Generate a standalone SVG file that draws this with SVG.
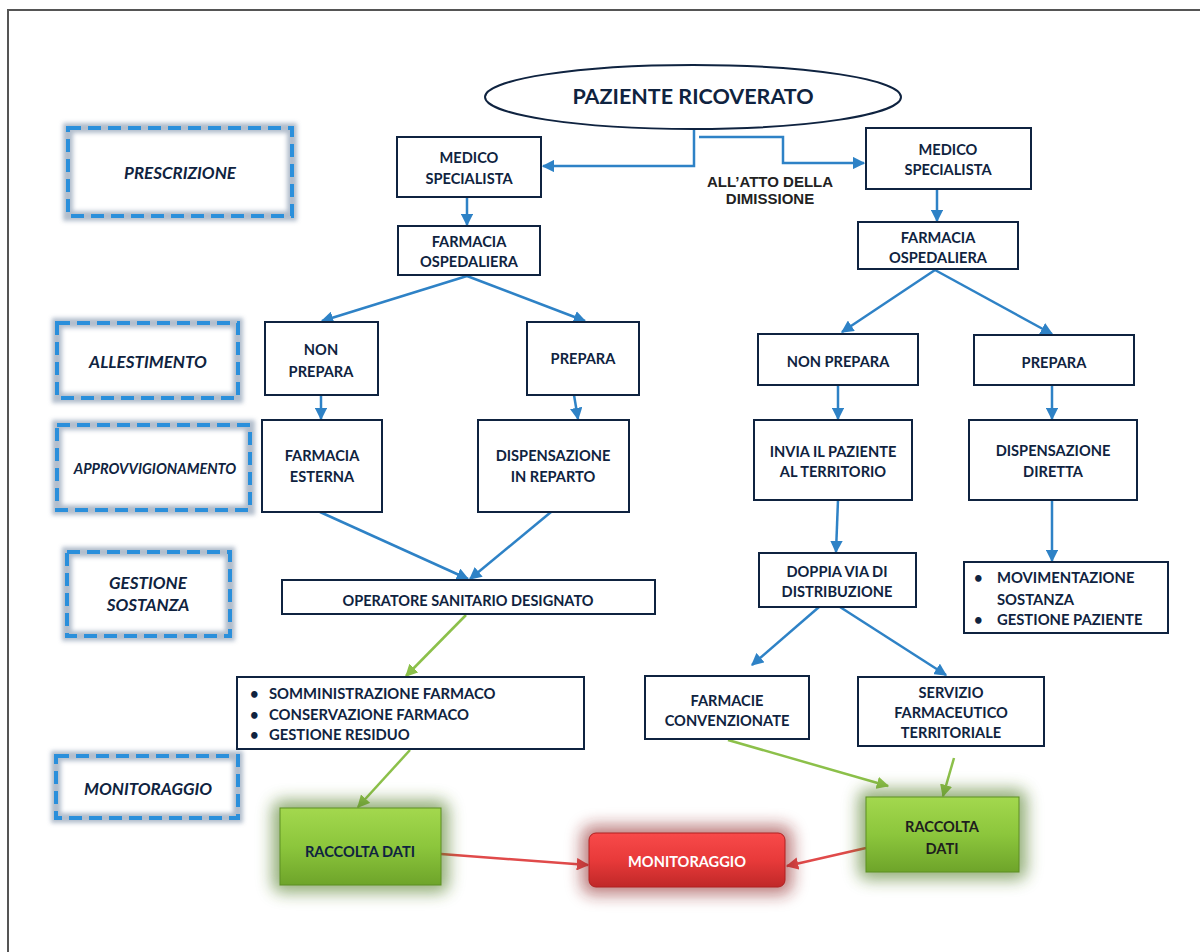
<svg xmlns="http://www.w3.org/2000/svg" width="1200" height="952" viewBox="0 0 1200 952">
<defs>
<style>
.bx{fill:#fff;stroke:#0f2340;stroke-width:2}
.t{font-family:Lato,"Open Sans",sans-serif;font-weight:bold;font-size:14.6px;fill:#0f2340;text-anchor:middle}
.tl{font-family:Lato,"Open Sans",sans-serif;font-weight:bold;font-size:14.8px;fill:#0f2340}
.lab{font-family:Lato,"Open Sans",sans-serif;font-weight:bold;font-style:italic;font-size:17px;fill:#0f2340;text-anchor:middle}
.dg{fill:none;stroke:#7f93aa;stroke-width:10;stroke-opacity:0.6;filter:url(#blur)}
.dd{fill:none;stroke:#2a8fdb;stroke-width:4;stroke-dasharray:13 7}
.cb{fill:none;stroke:#2e82c6;stroke-width:2.5}
.cg{fill:none;stroke:#8cc04a;stroke-width:2.5}
.cr{fill:none;stroke:#e04a4a;stroke-width:2.5}
</style>
<filter id="blur" x="-10%" y="-20%" width="120%" height="140%"><feGaussianBlur stdDeviation="2"/></filter>
<filter id="glow" x="-30%" y="-40%" width="160%" height="180%"><feGaussianBlur stdDeviation="8"/></filter>
<marker id="ab" viewBox="0 0 10 10" refX="9" refY="5" markerWidth="5" markerHeight="5" orient="auto"><path d="M0,0L10,5L0,10z" fill="#2e82c6"/></marker>
<marker id="ag" viewBox="0 0 10 10" refX="9" refY="5" markerWidth="5" markerHeight="5" orient="auto"><path d="M0,0L10,5L0,10z" fill="#8cc04a"/></marker>
<marker id="ar" viewBox="0 0 10 10" refX="9" refY="5" markerWidth="5" markerHeight="5" orient="auto"><path d="M0,0L10,5L0,10z" fill="#e04a4a"/></marker>
<linearGradient id="gg" x1="0" y1="0" x2="0" y2="1"><stop offset="0" stop-color="#a3d84e"/><stop offset="0.5" stop-color="#8cc63c"/><stop offset="1" stop-color="#6ea42a"/></linearGradient>
<linearGradient id="gr" x1="0" y1="0" x2="0" y2="1"><stop offset="0" stop-color="#f84a4a"/><stop offset="0.5" stop-color="#e83a3a"/><stop offset="1" stop-color="#c02828"/></linearGradient>
</defs>
<rect x="0" y="0" width="1200" height="952" fill="#fff"/>
<path d="M8,952V10H1200" fill="none" stroke="#555" stroke-width="2"/>

<g id="lab-prescrizione"><rect class="dg" x="68" y="128" width="224" height="88"/><rect class="dd" x="68" y="128" width="224" height="88"/><text class="lab" x="180" y="179">PRESCRIZIONE</text></g>
<g id="lab-allestimento"><rect class="dg" x="57" y="323" width="181" height="75"/><rect class="dd" x="57" y="323" width="181" height="75"/><text class="lab" x="148" y="368">ALLESTIMENTO</text></g>
<g id="lab-approvvigionamento"><rect class="dg" x="57" y="425" width="193" height="85"/><rect class="dd" x="57" y="425" width="193" height="85"/><text class="lab" x="155" y="474" style="font-size:14.5px">APPROVVIGIONAMENTO</text></g>
<g id="lab-gestione"><rect class="dg" x="67" y="552" width="163" height="84"/><rect class="dd" x="67" y="552" width="163" height="84"/><text class="lab" x="148" y="589">GESTIONE</text><text class="lab" x="148" y="611">SOSTANZA</text></g>
<g id="lab-monitoraggio"><rect class="dg" x="56" y="756" width="182" height="62"/><rect class="dd" x="56" y="756" width="182" height="62"/><text class="lab" x="148" y="795">MONITORAGGIO</text></g>

<g id="connectors">
<path class="cb" d="M694,129V166H543" marker-end="url(#ab)"/>
<path class="cb" d="M699,137H783V163H864" marker-end="url(#ab)"/>
<path class="cb" d="M467,197V225" marker-end="url(#ab)"/>
<path class="cb" d="M937,189V221" marker-end="url(#ab)"/>
<path class="cb" d="M467,276L322,321" marker-end="url(#ab)"/>
<path class="cb" d="M467,276L585,321" marker-end="url(#ab)"/>
<path class="cb" d="M935,270L842,332" marker-end="url(#ab)"/>
<path class="cb" d="M935,270L1052,334" marker-end="url(#ab)"/>
<path class="cb" d="M321,396V419" marker-end="url(#ab)"/>
<path class="cb" d="M574,395L578,419" marker-end="url(#ab)"/>
<path class="cb" d="M838,386V419" marker-end="url(#ab)"/>
<path class="cb" d="M1052,386V419" marker-end="url(#ab)"/>
<path class="cb" d="M320,512L468,579" marker-end="url(#ab)"/>
<path class="cb" d="M551,512L470,579" marker-end="url(#ab)"/>
<path class="cb" d="M838,500L836,552" marker-end="url(#ab)"/>
<path class="cb" d="M1052,500V561" marker-end="url(#ab)"/>
<path class="cb" d="M819,607L752,665" marker-end="url(#ab)"/>
<path class="cb" d="M840,607L946,675" marker-end="url(#ab)"/>
<path class="cg" d="M466,615L406,676" marker-end="url(#ag)"/>
<path class="cg" d="M410,750L358,807" marker-end="url(#ag)"/>
<path class="cg" d="M728,740L888,786" marker-end="url(#ag)"/>
<path class="cg" d="M954,758L943,796" marker-end="url(#ag)"/>
<path class="cr" d="M441,854L588,865" marker-end="url(#ar)"/>
<path class="cr" d="M866,848L787,866" marker-end="url(#ar)"/>
</g>

<g id="paziente"><ellipse cx="693" cy="97" rx="208" ry="32" fill="#fff" stroke="#0f2340" stroke-width="2"/><text class="t" x="693" y="104" style="font-size:21.5px">PAZIENTE RICOVERATO</text></g>
<g id="dimissione"><text x="770" y="187" text-anchor="middle" font-family="'Liberation Sans',Arial,sans-serif" font-weight="bold" font-size="15px" fill="#222">ALL’ATTO DELLA</text><text x="770" y="204" text-anchor="middle" font-family="'Liberation Sans',Arial,sans-serif" font-weight="bold" font-size="15px" fill="#222">DIMISSIONE</text></g>

<g id="medico-l"><rect class="bx" x="397" y="137" width="144" height="60"/><text class="t" x="469" y="163">MEDICO</text><text class="t" x="469" y="184">SPECIALISTA</text></g>
<g id="medico-r"><rect class="bx" x="866" y="128" width="165" height="61"/><text class="t" x="948" y="155">MEDICO</text><text class="t" x="948" y="175">SPECIALISTA</text></g>
<g id="farmacia-l"><rect class="bx" x="398" y="226" width="142" height="49"/><text class="t" x="469" y="247">FARMACIA</text><text class="t" x="469" y="267">OSPEDALIERA</text></g>
<g id="farmacia-r"><rect class="bx" x="858" y="222" width="160" height="47"/><text class="t" x="938" y="243">FARMACIA</text><text class="t" x="938" y="263">OSPEDALIERA</text></g>
<g id="nonprepara-l"><rect class="bx" x="265" y="322" width="113" height="73"/><text class="t" x="321" y="355">NON</text><text class="t" x="321" y="377">PREPARA</text></g>
<g id="prepara-l"><rect class="bx" x="527" y="322" width="112" height="73"/><text class="t" x="583" y="364">PREPARA</text></g>
<g id="nonprepara-r"><rect class="bx" x="758" y="334" width="160" height="51"/><text class="t" x="838" y="367">NON PREPARA</text></g>
<g id="prepara-r"><rect class="bx" x="974" y="335" width="160" height="50"/><text class="t" x="1054" y="368">PREPARA</text></g>
<g id="farmacia-esterna"><rect class="bx" x="262" y="420" width="120" height="92"/><text class="t" x="322" y="461">FARMACIA</text><text class="t" x="322" y="482">ESTERNA</text></g>
<g id="dispensazione-reparto"><rect class="bx" x="478" y="420" width="151" height="92"/><text class="t" x="553" y="461">DISPENSAZIONE</text><text class="t" x="553" y="482">IN REPARTO</text></g>
<g id="invia"><rect class="bx" x="754" y="420" width="158" height="80"/><text class="t" x="833" y="457">INVIA IL PAZIENTE</text><text class="t" x="833" y="477">AL TERRITORIO</text></g>
<g id="dispensazione-diretta"><rect class="bx" x="969" y="420" width="168" height="80"/><text class="t" x="1053" y="456">DISPENSAZIONE</text><text class="t" x="1053" y="477">DIRETTA</text></g>
<g id="operatore"><rect class="bx" x="282" y="580" width="373" height="34"/><text class="t" x="468" y="606" style="font-size:14.5px">OPERATORE SANITARIO DESIGNATO</text></g>
<g id="doppia-via"><rect class="bx" x="759" y="553" width="157" height="54"/><text class="t" x="837" y="577">DOPPIA VIA DI</text><text class="t" x="837" y="597">DISTRIBUZIONE</text></g>
<g id="bullets-r"><rect class="bx" x="964" y="562" width="204" height="71"/><text class="tl" x="974" y="583">•</text><text class="tl" x="997" y="583">MOVIMENTAZIONE</text><text class="tl" x="997" y="605">SOSTANZA</text><text class="tl" x="974" y="625">•</text><text class="tl" x="997" y="625">GESTIONE PAZIENTE</text></g>
<g id="farmacie-conv"><rect class="bx" x="645" y="676" width="164" height="63"/><text class="t" x="727" y="706">FARMACIE</text><text class="t" x="727" y="726">CONVENZIONATE</text></g>
<g id="servizio"><rect class="bx" x="858" y="677" width="186" height="69"/><text class="t" x="951" y="698">SERVIZIO</text><text class="t" x="951" y="718">FARMACEUTICO</text><text class="t" x="951" y="738">TERRITORIALE</text></g>
<g id="bullets-l"><rect class="bx" x="237" y="677" width="347" height="72"/><text class="tl" x="250" y="699">•</text><text class="tl" x="269" y="699">SOMMINISTRAZIONE FARMACO</text><text class="tl" x="250" y="720">•</text><text class="tl" x="269" y="720">CONSERVAZIONE FARMACO</text><text class="tl" x="250" y="740">•</text><text class="tl" x="269" y="740">GESTIONE RESIDUO</text></g>

<g id="raccolta-l"><rect x="272" y="800" width="177" height="93" rx="10" fill="#4f7a22" opacity="0.6" filter="url(#glow)"/><rect x="280" y="808" width="161" height="77" fill="url(#gg)" stroke="#5d8f22" stroke-width="1"/><text class="t" x="360" y="857">RACCOLTA DATI</text></g>
<g id="raccolta-r"><rect x="858" y="789" width="169" height="91" rx="10" fill="#4f7a22" opacity="0.6" filter="url(#glow)"/><rect x="866" y="797" width="153" height="75" fill="url(#gg)" stroke="#5d8f22" stroke-width="1"/><text class="t" x="942" y="832" style="fill:#1e1e1e">RACCOLTA</text><text class="t" x="942" y="854" style="fill:#1e1e1e">DATI</text></g>
<g id="monitoraggio"><rect x="581" y="825" width="212" height="70" rx="12" fill="#8a1a1a" opacity="0.55" filter="url(#glow)"/><rect x="589" y="833" width="196" height="54" rx="7" fill="url(#gr)" stroke="#b02020" stroke-width="1"/><text class="t" x="687" y="867" style="fill:#fff">MONITORAGGIO</text></g>
</svg>
